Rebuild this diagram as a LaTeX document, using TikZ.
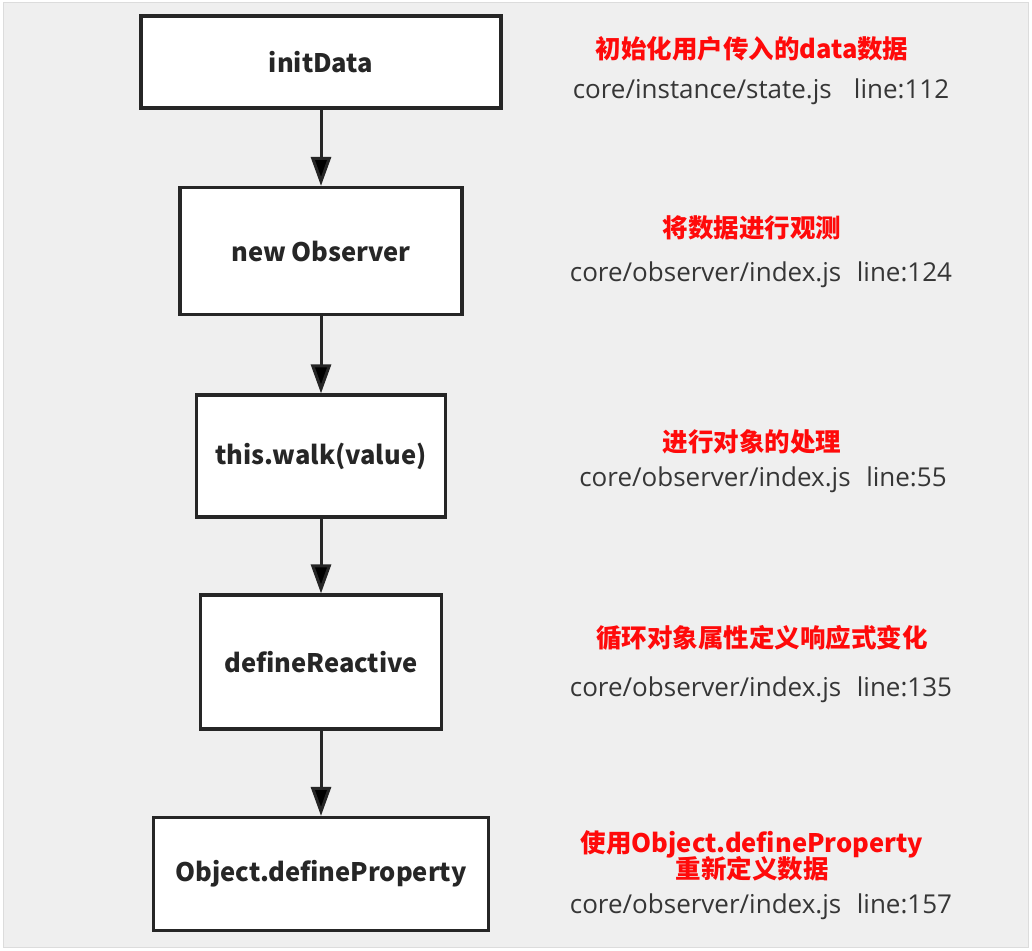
\documentclass[tikz,border=0pt]{standalone}
\usepackage{fontspec}
\setmainfont{Noto Sans CJK SC}
\newfontfamily\pathfont{Open Sans}
\usepackage{tikz}
\usetikzlibrary{arrows.meta, positioning}
\definecolor{bgGray}{HTML}{EFEFEF}
\definecolor{edgeGray}{HTML}{DCDCDC}
\definecolor{inkGray}{HTML}{262626}
\definecolor{pathGray}{HTML}{363636}
\definecolor{noteRed}{HTML}{FF0A0A}

\begin{document}
\begin{tikzpicture}[x=1pt, y=1pt, auto,
  box/.style={draw=inkGray, line width=3.2pt, fill=white, text=inkGray,
    font=\fontsize{25.5}{30}\selectfont\bfseries, inner sep=0pt},
  note/.style={text=noteRed, font=\fontsize{25.5}{30}\selectfont\bfseries, align=center},
  srcpath/.style={text=pathGray, font=\pathfont\fontsize{26}{30}\selectfont},
  flow/.style={-{Triangle[length=29pt, width=20pt]}, draw=inkGray, line width=3pt}]
\useasboundingbox (0,0) rectangle (1032,950);
\fill[white] (0,0) rectangle (1032,950);
\filldraw[fill=bgGray, draw=edgeGray, line width=1pt] (3,3) rectangle (1028,947);

\node[box, minimum width=360pt, minimum height=92pt] (init) at (321,888) {initData};
\node[box, minimum width=282pt, minimum height=127pt, node distance=189pt, below of=init] (observer) {new Observer};
\node[box, minimum width=249pt, minimum height=122pt, node distance=205pt, below of=observer] (walk) {this.walk(value)};
\node[box, minimum width=241pt, minimum height=134pt, node distance=206pt, below of=walk] (reactive) {defineReactive};
\node[box, minimum width=335pt, minimum height=113pt, node distance=212pt, below of=reactive] (defprop) {Object.defineProperty};

\path[flow] (init) edge (observer);
\path[flow] (observer) edge (walk);
\path[flow] (walk) edge (reactive);
\path[flow] (reactive) edge (defprop);

\node[note] (initNote) at (752,901) {初始化用户传入的data数据};
\node[srcpath] (initSrc) at (761,858) {core/instance/state.js\hspace{0.85em}line:112};
\node[note] (obsNote) at (752,722) {将数据进行观测};
\node[srcpath] (obsSrc) at (761,675) {core/observer/index.js\hspace{0.6em}line:124};
\node[note] (walkNote) at (752,508) {进行对象的处理};
\node[srcpath] (walkSrc) at (763,470) {core/observer/index.js\hspace{0.6em}line:55};
\node[note] (reactNote) at (762,312) {循环对象属性定义响应式变化};
\node[srcpath] (reactSrc) at (761,260) {core/observer/index.js\hspace{0.6em}line:135};
\node[note, text width=400pt] (propNote) at (752,94) {使用Object.defineProperty\\[-4pt]重新定义数据};
\node[srcpath] (propSrc) at (761,43) {core/observer/index.js\hspace{0.6em}line:157};
\end{tikzpicture}
\end{document}
